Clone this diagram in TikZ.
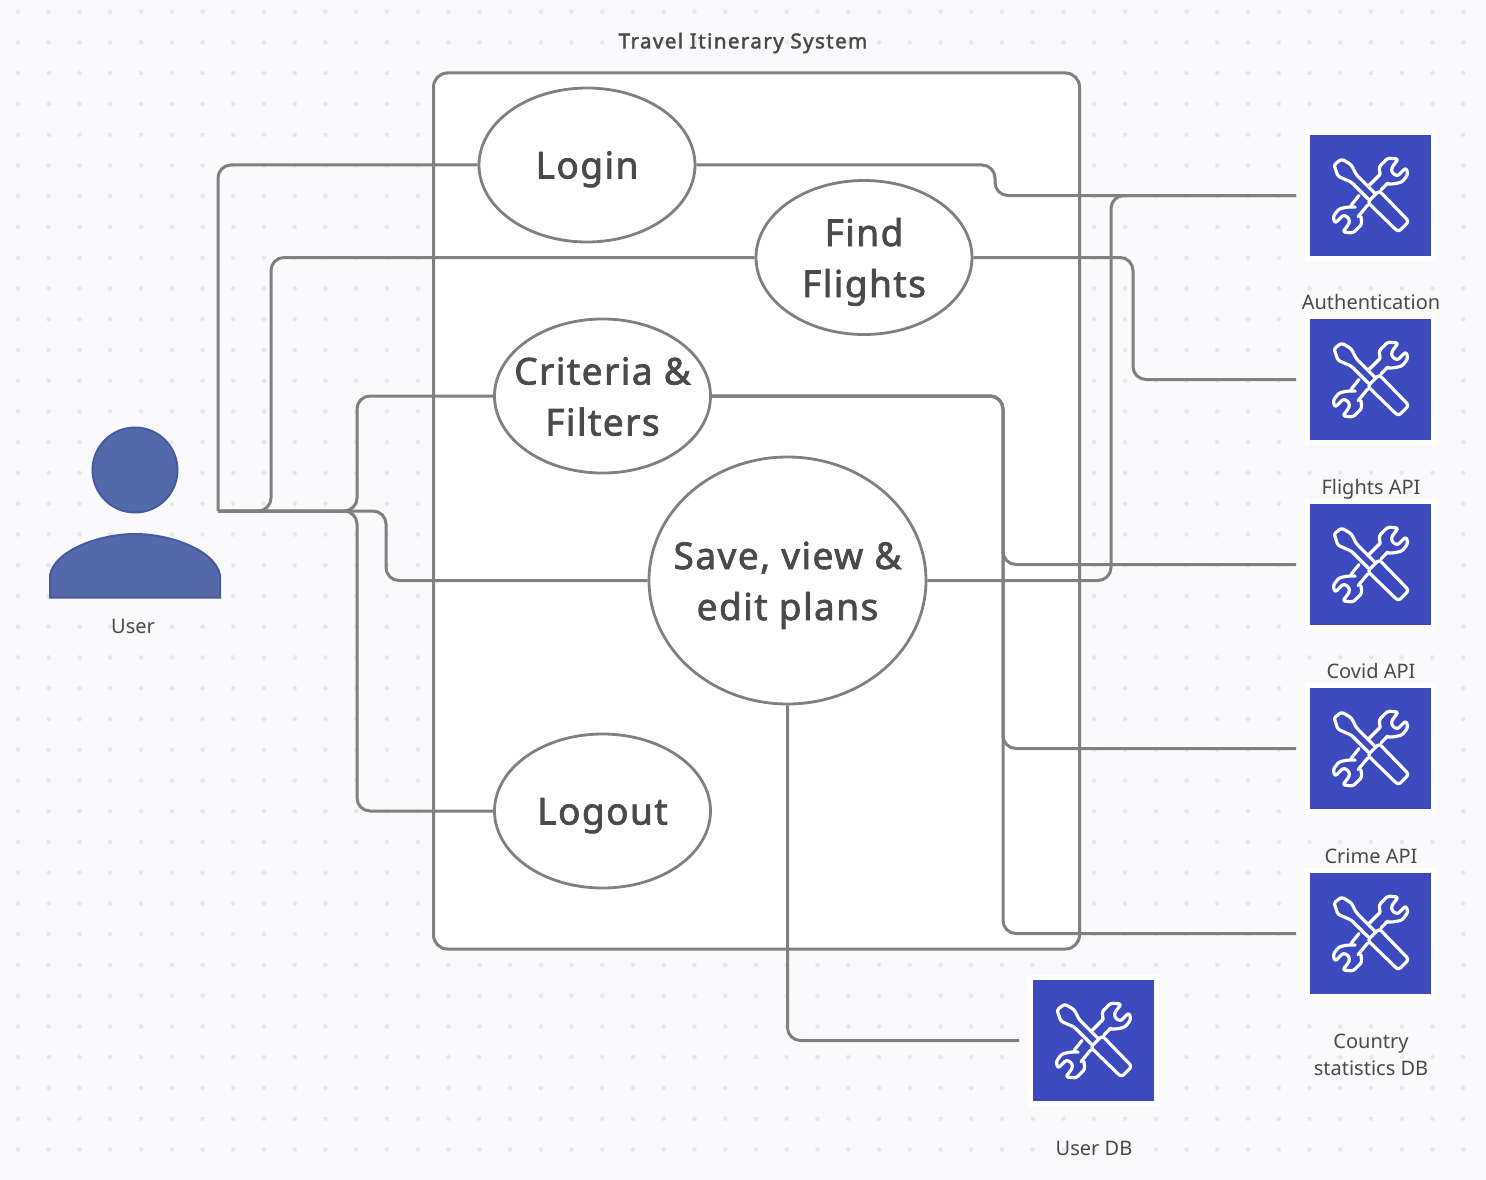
\documentclass[tikz,border=0pt]{standalone}
\usepackage{fontspec}
\setmainfont{Noto Sans}
\newfontfamily\ovalfont[FakeBold=2,LetterSpace=4]{Noto Sans}
\newfontfamily\titlefont[FakeBold=2,LetterSpace=7]{Noto Sans}
\usetikzlibrary{shapes.geometric}
\definecolor{paper}{HTML}{FAFAFD}
\definecolor{griddot}{HTML}{E8E8EC}
\definecolor{linkgray}{HTML}{808080}
\definecolor{inkgray}{HTML}{4A4A4A}
\definecolor{toolblue}{HTML}{3D4ABE}
\definecolor{userblue}{HTML}{5468AA}
\definecolor{useredge}{HTML}{465B9E}
\tikzset{
  oval/.style={ellipse,draw=linkgray,fill=white,line width=2.8pt,inner sep=-30pt,
    minimum width=216pt,minimum height=154pt,align=center,text=inkgray,
    font=\ovalfont\fontsize{37}{51}\selectfont,
    execute at begin node={\rule{0pt}{37pt}},
    execute at end node={\rule[-10pt]{0pt}{0pt}}},
  twoline/.style={execute at begin node={\rule{0pt}{89pt}}},
  link/.style={draw=linkgray,line width=3pt,rounded corners=13pt},
  toolbox/.style={rectangle,draw=white,fill=toolblue,line width=5pt,
    minimum size=126pt,inner sep=0pt,outer sep=11.5pt},
  caption/.style={text=inkgray,align=center,inner sep=0pt,
    font=\fontsize{20}{27}\selectfont},
  toolicon/.pic={
    \begin{scope}[scale=0.96,draw=white,line width=3.2pt,line join=round,line cap=round]
      % screwdriver
      \draw[rounded corners=2.5pt] (5,-2)--(-15,-22)--(-20,-32)--(-30,-38)--(-38,-32)--(-34,-20)--(-20,-14)--(-2,4);
      \draw[rounded corners=3pt] (-3,7)--(9,-5)--(40,27)--(29,38)--cycle;
      % wrench
      \draw (10,-22)--(-2,-10);
      \draw (-12,0)--(-20,10);
      \draw (18,-13)--(11,-6);
      \draw (-3,10)--(-13,22);
      \foreach \turn in {0,180}{
        \draw[rotate=\turn,rounded corners=2.5pt] (10,-22)--(9,-30)--(18,-39)--(29,-38)--(22,-29)--(22,-24)--(28,-20)--(37,-29)--(39,-22)--(33,-14)--(24,-12)--(16,-12);
      }
    \end{scope}
  }
}
\begin{document}
\begin{tikzpicture}[x=1pt,y=-1pt]
  \useasboundingbox (0,0) rectangle (1486,1180);
  \fill[paper] (0,0) rectangle (1486,1180);
  \foreach \i in {0,...,47}{
    \foreach \j in {0,...,37}{
      \fill[griddot] ({18+30.75*\i},{11.7+30.75*\j}) circle (2.3pt);
    }
  }

  \node[caption,font=\titlefont\fontsize{20.5}{27}\selectfont] (title) at (743,43) {Travel Itinerary System};
  \draw[linkgray,fill=white,line width=3pt,rounded corners=14pt] (433.5,73) rectangle (1079.5,949);

  \node[oval] (login) at (587,165) {Login};
  \node[oval,twoline] (find) at (864,257.5) {Find\\Flights};
  \node[oval,twoline] (criteria) at (602.5,396) {Criteria \&\\Filters};
  \node[oval,twoline,minimum width=277pt,minimum height=247pt] (save) at (787.5,580.5) {Save, view \&\\edit plans};
  \node[oval] (logout) at (602.5,811) {Logout};

  \foreach \name/\xpos/\ypos in {auth/1370.5/195.5,flights/1370.5/379.5,covid/1370.5/564.5,crime/1370.5/748.5,country/1370.5/933.5,userdb/1093.5/1040.5}{
    \node[toolbox] (\name) at (\xpos,\ypos) {};
    \pic at (\name) {toolicon};
  }

  % user figure
  \fill[userblue,draw=useredge,line width=2pt] (135,470) circle (42.5pt);
  \fill[userblue,draw=useredge,line width=2pt] (50,597.5)--(50,575) .. controls (55,550) and (100,534) .. (135,534) .. controls (170,534) and (215,550) .. (220,575)--(220,597.5)--cycle;
  \node[caption] (user) at (133,626) {User};
  \coordinate (hub) at (218,511);

  % user side
  \draw[link] (hub) |- (login.west);
  \draw[link] (hub)--(271,511) |- (find.west);
  \draw[link] (hub)--(357,511) |- (criteria.west);
  \draw[link] (hub)--(386,511) |- (save.west);
  \draw[link] (hub)--(357,511) |- (logout.west);

  % services side
  \draw[link] (login.east)--(995,165) |- (auth.west);
  \draw[link] (find.east)--(1133,257.5) |- (flights.west);
  \draw[link] (save.east)--(1111,580.5) |- (auth.west);
  \foreach \name in {covid,crime,country}{
    \draw[link] (criteria.east)--(1003,396) |- (\name.west);
  }
  \draw[link] (save.south) |- (userdb.west);

  \node[caption] (authlabel) at (1371,302) {Authentication};
  \node[caption] (flightslabel) at (1371,489) {Flights API};
  \node[caption] (covidlabel) at (1371,671) {Covid API};
  \node[caption] (crimelabel) at (1371,856) {Crime API};
  \node[caption] (countrylabel) at (1371,1055) {Country\\statistics DB};
  \node[caption] (userdblabel) at (1094,1148) {User DB};
\end{tikzpicture}
\end{document}
